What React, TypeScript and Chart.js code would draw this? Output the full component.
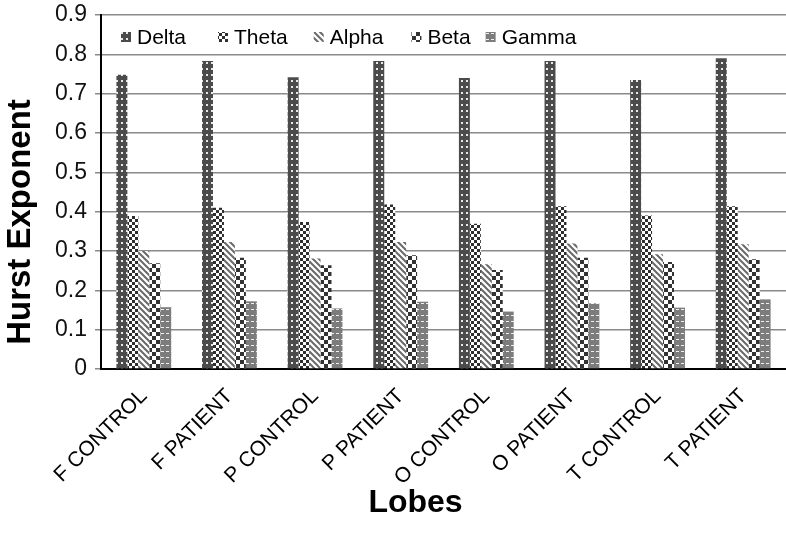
import React, { useEffect, useRef } from 'react';
import { Chart, registerables } from 'chart.js';
Chart.register(...registerables);

const categories = ['F CONTROL', 'F PATIENT', 'P CONTROL', 'P PATIENT', 'O CONTROL', 'O PATIENT', 'T CONTROL', 'T PATIENT'];
const seriesLabels = ['Delta', 'Theta', 'Alpha', 'Beta', 'Gamma'];
const delta = [0.748, 0.783, 0.742, 0.783, 0.740, 0.783, 0.735, 0.790];
const theta = [0.389, 0.410, 0.374, 0.418, 0.369, 0.414, 0.390, 0.414];
const alpha = [0.300, 0.323, 0.281, 0.323, 0.266, 0.319, 0.292, 0.317];
const beta = [0.269, 0.283, 0.264, 0.289, 0.252, 0.283, 0.272, 0.279];
const gamma = [0.157, 0.172, 0.154, 0.171, 0.146, 0.167, 0.156, 0.177];
const yMin = 0;
const yMax = 0.9;
const yStep = 0.1;
const xTitle = 'Lobes';
const yTitle = 'Hurst Exponent';

const FONT = '"Liberation Sans", Arial, Helvetica, sans-serif';

function makeTile(w: number, h: number, draw: (c: CanvasRenderingContext2D) => void) {
  const cv = document.createElement('canvas');
  cv.width = w;
  cv.height = h;
  const c = cv.getContext('2d')!;
  draw(c);
  return cv;
}

function makePatterns(ctx: CanvasRenderingContext2D) {
  const dots = makeTile(5, 6, (c) => {
    c.fillStyle = '#4b4b4b';
    c.fillRect(0, 0, 5, 6);
    c.fillStyle = '#e8e8e8';
    c.fillRect(1, 2, 2, 2);
  });
  const check = makeTile(6, 6, (c) => {
    c.fillStyle = '#ffffff';
    c.fillRect(0, 0, 6, 6);
    c.fillStyle = '#2e2e2e';
    c.fillRect(0, 0, 3, 3);
    c.fillRect(3, 3, 3, 3);
  });
  const diag = makeTile(6, 6, (c) => {
    c.fillStyle = '#ffffff';
    c.fillRect(0, 0, 6, 6);
    c.strokeStyle = '#6a6a6a';
    c.lineWidth = 2;
    c.beginPath();
    c.moveTo(-1, -1); c.lineTo(7, 7);
    c.moveTo(-4, 2); c.lineTo(4, 10);
    c.moveTo(2, -4); c.lineTo(10, 4);
    c.stroke();
  });
  const bigCheck = makeTile(8, 8, (c) => {
    c.fillStyle = '#ffffff';
    c.fillRect(0, 0, 8, 8);
    c.fillStyle = '#333333';
    c.fillRect(0, 0, 4, 4);
    c.fillRect(4, 4, 4, 4);
  });
  const dash = makeTile(5, 6, (c) => {
    c.fillStyle = '#7c7c7c';
    c.fillRect(0, 0, 5, 6);
    c.fillStyle = '#f0f0f0';
    c.fillRect(1, 3, 3, 1);
  });
  return [dots, check, diag, bigCheck, dash].map((t) => ctx.createPattern(t, 'repeat') as CanvasPattern);
}

const legendGaps = [32, 26, 28, 15];

const insideLegend = {
  id: 'insideLegend',
  afterDraw(chart: any) {
    const { ctx, chartArea } = chart;
    let x = chartArea.left + 20;
    const y = chartArea.top + 22;
    ctx.save();
    ctx.font = `21px ${FONT}`;
    ctx.textBaseline = 'middle';
    ctx.textAlign = 'left';
    chart.data.datasets.forEach((ds: any, i: number) => {
      ctx.fillStyle = ds.backgroundColor;
      ctx.fillRect(x, y - 5, 10, 10);
      x += 16;
      ctx.fillStyle = '#000000';
      ctx.fillText(ds.label, x, y + 1);
      x += ctx.measureText(ds.label).width + (legendGaps[i] ?? 26);
    });
    ctx.restore();
  },
};

const axisTitles = {
  id: 'axisTitles',
  afterDraw(chart: any) {
    const { ctx, chartArea } = chart;
    ctx.save();
    ctx.fillStyle = '#000000';
    ctx.font = `bold 33px ${FONT}`;
    ctx.textAlign = 'center';
    ctx.textBaseline = 'middle';
    ctx.save();
    ctx.translate(21, (chartArea.top + chartArea.bottom) / 2 + 30);
    ctx.rotate(-Math.PI / 2);
    ctx.fillText(yTitle, 0, 0);
    ctx.restore();
    ctx.font = `bold 32px ${FONT}`;
    ctx.fillText(xTitle, (chartArea.left + chartArea.right) / 2 - 28, 503);
    ctx.restore();
  },
};

export default function App() {
  const ref = useRef<HTMLCanvasElement | null>(null);
  useEffect(() => {
    const canvas = ref.current!;
    const ctx = canvas.getContext('2d')!;
    const patterns = makePatterns(ctx);
    const values = [delta, theta, alpha, beta, gamma];
    const chart = new Chart(ctx, {
      type: 'bar',
      data: {
        labels: categories,
        datasets: seriesLabels.map((label, i) => ({
          label,
          data: values[i],
          backgroundColor: patterns[i],
          borderWidth: 0,
          barPercentage: 1,
          categoryPercentage: 0.64,
        })),
      },
      options: {
        responsive: false,
        animation: false,
        layout: { padding: { top: 15, right: 0, left: 0, bottom: 0 } },
        plugins: {
          legend: { display: false },
          tooltip: { enabled: false },
        },
        scales: {
          x: {
            grid: { display: false },
            border: { display: true, color: '#000000', width: 2 },
            ticks: {
              color: '#000000',
              font: { size: 21, family: FONT },
              minRotation: 45,
              maxRotation: 45,
              autoSkip: false,
              padding: 7,
            },
            afterFit(scale: any) {
              scale.height = 164;
              scale.paddingLeft = 0;
              scale.paddingRight = 0;
            },
          },
          y: {
            min: yMin,
            max: yMax,
            ticks: {
              stepSize: yStep,
              color: '#111111',
              font: { size: 23, family: FONT },
              padding: 8,
            },
            grid: { color: '#8a8a8a', lineWidth: 1.5, tickLength: 6, tickColor: '#8a8a8a' },
            border: { display: true, color: '#000000', width: 2 },
            afterFit(scale: any) {
              scale.width = 101;
              scale.paddingTop = 0;
              scale.paddingBottom = 0;
            },
          },
        },
      },
      plugins: [insideLegend, axisTitles],
    });
    return () => chart.destroy();
  }, []);
  return (
    <div style={{ position: 'absolute', left: 0, top: 0, width: 786, height: 533, background: '#ffffff' }}>
      <canvas ref={ref} width={786} height={533} />
    </div>
  );
}
